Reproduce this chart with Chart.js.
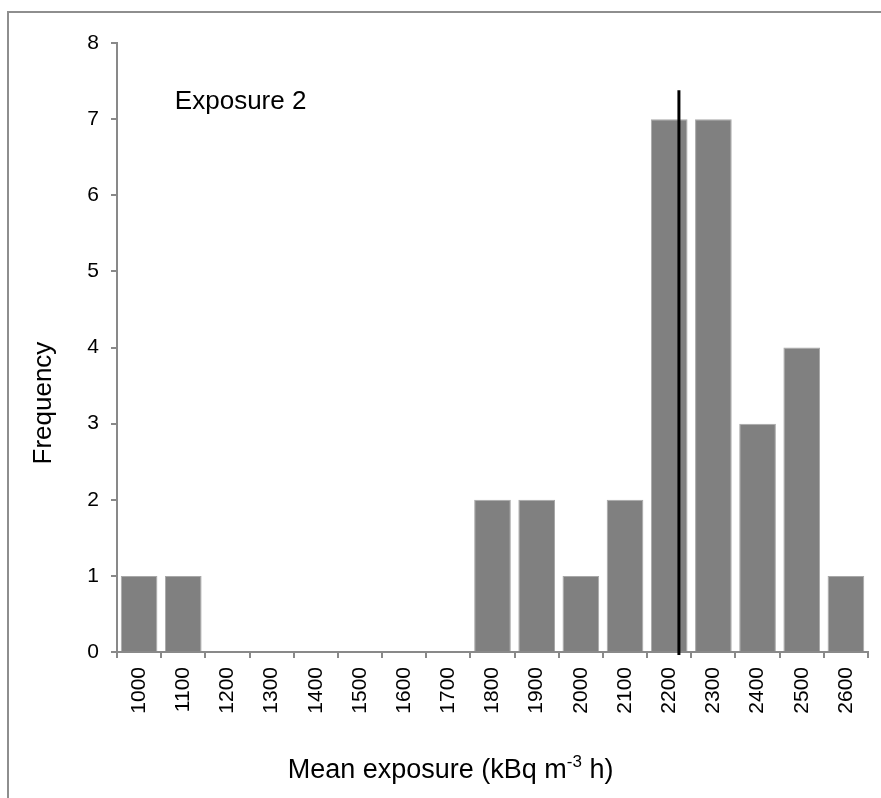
<!DOCTYPE html>
<html>
<head>
<meta charset="utf-8">
<script src="https://cdn.jsdelivr.net/npm/chart.js@4.4.1/dist/chart.umd.min.js"></script>
<style>
  html, body { margin: 0; padding: 0; background: #fff; overflow: hidden; }
  .frame {
    position: absolute; left: 7px; top: 11px; width: 900px; height: 900px;
    border: 2px solid #8e8e8e;
  }
  .wrap { position: absolute; left: 0; top: 0; width: 881px; height: 798px; }
</style>
</head>
<body>
<div class="frame"></div>
<div class="wrap"><canvas id="chart"></canvas></div>
<script>
// bins of mean exposure (kBq m-3 h)
const bins = ["1000", "1100", "1200", "1300", "1400", "1500", "1600", "1700", "1800",
  "1900", "2000", "2100", "2200", "2300", "2400", "2500", "2600"];
const frequency = [1, 1, 0, 0, 0, 0, 0, 0, 2, 2, 1, 2, 7, 7, 3, 4, 1];
const meanExposure = 2222;   // vertical marker
const meanLineTop = 7.38;
const panelLabel = "Exposure 2";
const yTitle = "Frequency";

const FONT = "'Liberation Sans', Arial, sans-serif";
const AXIS = "#898989";

// convert an exposure value to a fractional category index
const toIndex = v => (v - Number(bins[0])) / (Number(bins[1]) - Number(bins[0]));

const overlay = {
  id: "overlay",
  afterDatasetsDraw(chart) {
    const { ctx, scales: { x, y }, chartArea } = chart;
    ctx.save();
    // mean line
    const mx = x.getPixelForValue(toIndex(meanExposure));
    ctx.strokeStyle = "#000";
    ctx.lineWidth = 3;
    ctx.beginPath();
    ctx.moveTo(mx, y.getPixelForValue(meanLineTop));
    ctx.lineTo(mx, chartArea.bottom + 3);
    ctx.stroke();
    // panel label
    ctx.fillStyle = "#000";
    ctx.font = "26px " + FONT;
    ctx.textBaseline = "middle";
    ctx.textAlign = "left";
    ctx.fillText(panelLabel, x.getPixelForValue(0.81), y.getPixelForValue(7.23));
    // y title (sits a bit below the axis centre, as in the original)
    ctx.save();
    ctx.translate(44, y.getPixelForValue(3.27));
    ctx.rotate(-Math.PI / 2);
    ctx.textAlign = "center";
    ctx.fillText(yTitle, 0, 0);
    ctx.restore();
    // x title with superscript
    const parts = [["Mean exposure (kBq m", "27px"], ["-3", "17px"], [" h)", "27px"]];
    let total = 0;
    parts.forEach(p => { ctx.font = p[1] + " " + FONT; total += ctx.measureText(p[0]).width; });
    let tx = x.getPixelForValue(7.05) - total / 2;
    const ty = 771;
    parts.forEach(p => {
      ctx.font = p[1] + " " + FONT;
      ctx.fillText(p[0], tx, p[1] === "17px" ? ty - 9 : ty);
      tx += ctx.measureText(p[0]).width;
    });
    ctx.restore();
  }
};

new Chart(document.getElementById("chart"), {
  type: "bar",
  data: {
    labels: bins,
    datasets: [{
      label: "Frequency",
      data: frequency,
      backgroundColor: "#808080",
      borderColor: "#a8a8a8",
      borderWidth: 1,
      categoryPercentage: 1,
      barPercentage: 0.83
    }]
  },
  options: {
    responsive: true,
    maintainAspectRatio: false,
    animation: false,
    layout: { padding: { top: 43, right: 13, bottom: 0, left: 0 } },
    plugins: { legend: { display: false }, tooltip: { enabled: false } },
    scales: {
      x: {
        afterFit: s => { s.height = 146; },
        grid: { offset: true, drawOnChartArea: false, color: AXIS, tickLength: 6, lineWidth: 2 },
        border: { color: AXIS, width: 2 },
        ticks: {
          minRotation: 90, maxRotation: 90, autoSkip: false, padding: 9,
          color: "#000", font: { family: FONT, size: 21 }
        },
        title: { display: false }
      },
      y: {
        min: 0, max: 8,
        afterFit: s => { s.width = 117; },
        grid: { drawOnChartArea: false, color: AXIS, tickLength: 6, lineWidth: 2 },
        border: { color: AXIS, width: 2 },
        ticks: { stepSize: 1, padding: 12, color: "#000", font: { family: FONT, size: 21 } },
        title: { display: false }
      }
    }
  },
  plugins: [overlay]
});
</script>
</body>
</html>
